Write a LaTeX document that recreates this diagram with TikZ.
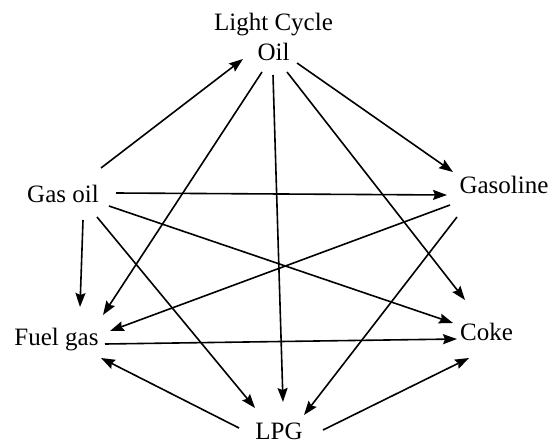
\documentclass[tikz,border=0pt]{standalone}
\usepackage{fontspec}
\setmainfont{Liberation Serif}
\usetikzlibrary{arrows.meta}
\begin{document}
\begin{tikzpicture}[x=1pt,y=-1pt,
  lbl/.style={inner sep=0pt,font=\fontsize{25}{30}\selectfont},
  arr/.style={-{Stealth[length=14pt,width=10pt,inset=2pt]},line width=1.6pt}]
\useasboundingbox (0,0) rectangle (556,444);
\node[lbl,align=center,anchor=center] (lco) at (273.5,36.6) {Light Cycle\\Oil};
\node[lbl,anchor=base] (gasoil) at (63,202) {Gas oil};
\node[lbl,anchor=base] (gasoline) at (504,193) {Gasoline};
\node[lbl,anchor=base] (fuelgas) at (56.5,345) {Fuel gas};
\node[lbl,anchor=base] (coke) at (486.5,340) {Coke};
\node[lbl,anchor=base] (lpg) at (279,439) {LPG};
% from Gas oil
\draw[arr] ([shift={(38,-34)}]gasoil.base) -- ([shift={(-30.5,22.4)}]lco.center);
\draw[arr] ([shift={(53,-9)}]gasoil.base) -- ([shift={(-57,2)}]gasoline.base);
\draw[arr] ([shift={(46,4)}]gasoil.base) -- ([shift={(-33.5,-17)}]coke.base);
\draw[arr] ([shift={(20,18)}]gasoil.base) -- ([shift={(23.5,-38)}]fuelgas.base);
\draw[arr] ([shift={(34,15)}]gasoil.base) -- ([shift={(-24,-31)}]lpg.base);
% from Light Cycle Oil
\draw[arr] ([shift={(-11.5,35.4)}]lco.center) -- ([shift={(46.5,-30)}]fuelgas.base);
\draw[arr] ([shift={(-0.5,38.4)}]lco.center) -- ([shift={(4,-37)}]lpg.base);
\draw[arr] ([shift={(13.5,35.4)}]lco.center) -- ([shift={(-21.5,-40)}]coke.base);
\draw[arr] ([shift={(23.5,26.4)}]lco.center) -- ([shift={(-51,-21)}]gasoline.base);
% from Gasoline
\draw[arr] ([shift={(-54,12)}]gasoline.base) -- ([shift={(53.5,-14)}]fuelgas.base);
\draw[arr] ([shift={(-47,24)}]gasoline.base) -- ([shift={(25,-24)}]lpg.base);
% from Fuel gas
\draw[arr] ([shift={(48.5,-1)}]fuelgas.base) -- ([shift={(-29.5,-1)}]coke.base);
% from LPG
\draw[arr] ([shift={(-40,-11)}]lpg.base) -- ([shift={(44.5,13)}]fuelgas.base);
\draw[arr] ([shift={(44,-9)}]lpg.base) -- ([shift={(-17.5,18)}]coke.base);
\end{tikzpicture}
\end{document}
